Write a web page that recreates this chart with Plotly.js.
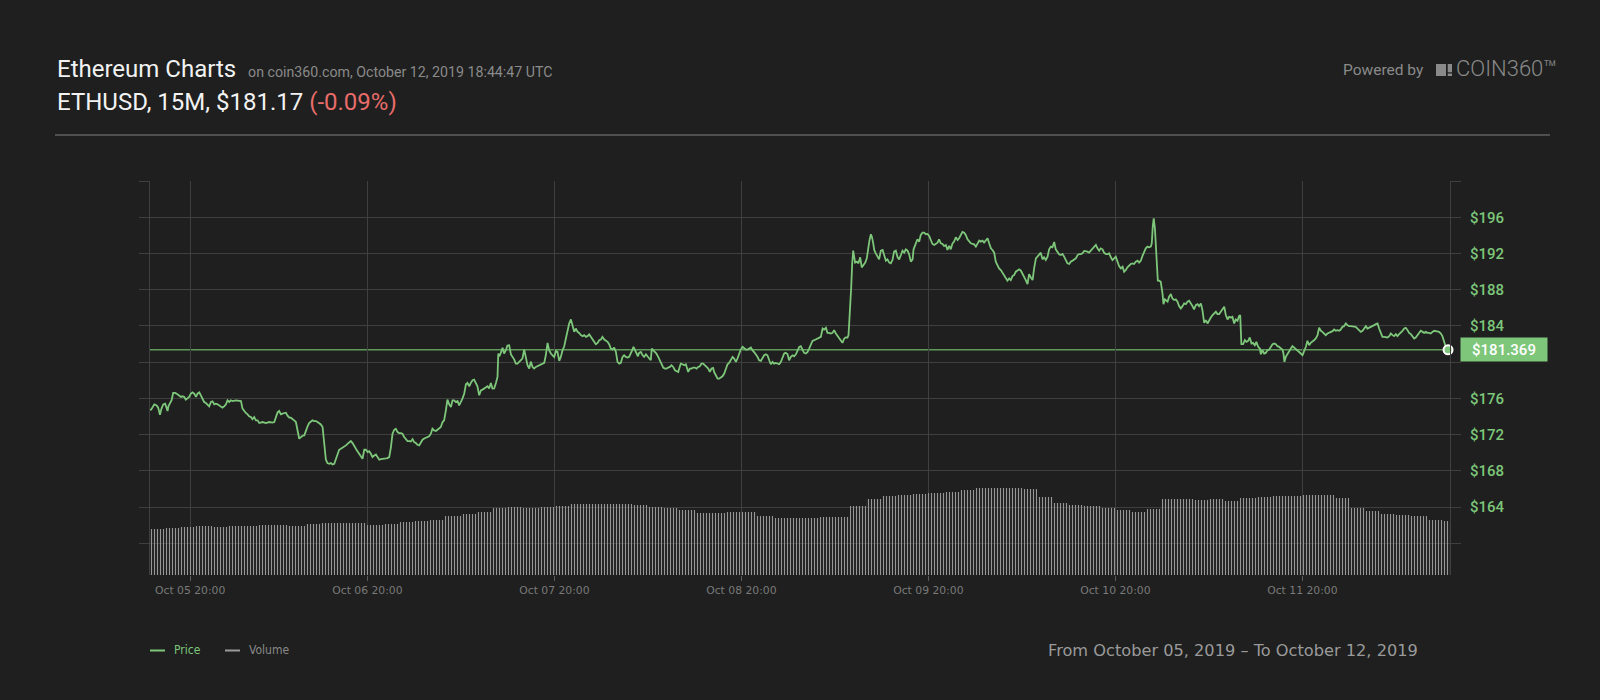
<!DOCTYPE html>
<html>
<head>
<meta charset="utf-8">
<script src="https://cdn.plot.ly/plotly-3.0.1.min.js"></script>
<style>
  html, body { margin: 0; padding: 0; background: #1e1f1e; }
  #chart { width: 1600px; height: 700px; }
</style>
</head>
<body>
<div id="chart"></div>
<script>
// ---- DATA ----
// x = 15-minute candle number from the start of the window
const xTickCandles = [21, 112, 208, 304, 400, 496, 592];
const xTickLabels = ["Oct 05 20:00", "Oct 06 20:00", "Oct 07 20:00", "Oct 08 20:00", "Oct 09 20:00", "Oct 10 20:00", "Oct 11 20:00"];
const yTickValues = [160, 164, 168, 172, 176, 180, 184, 188, 192, 196, 200];
const yTickLabels = ["", "$164", "$168", "$172", "$176", "", "$184", "$188", "$192", "$196", ""];
const lastPrice = 181.369;

// [candle, price USD]
const priceSeries = [
[0,174.76],[1.0,174.76],[2.6,175.35],[3.8,175.24],[4.6,174.99],[5.5,174.21],[6.3,174.88],[7.2,175.35],[8.2,175.43],[8.9,174.88],
[9.4,174.62],[9.9,175.17],[10.6,175.50],[11.5,175.80],[12.3,176.61],[13.3,176.61],[14.5,176.46],[15.4,176.35],[16.3,176.17],[17.1,176.24],
[18.0,176.17],[18.8,175.87],[19.7,176.09],[20.5,176.17],[21.4,176.53],[22.2,176.68],[23.1,176.53],[24.0,176.17],[24.8,176.53],[25.7,176.68],
[26.5,176.35],[27.4,175.87],[28.2,175.61],[29.1,175.50],[29.9,175.35],[30.8,175.13],[31.7,175.61],[32.5,175.69],[33.4,175.35],[34.2,175.43],
[35.1,175.35],[35.9,175.21],[36.8,175.06],[37.6,174.99],[38.5,175.13],[39.4,175.35],[40.2,175.80],[41.1,175.61],[41.9,175.80],[42.8,175.72],
[44.5,175.80],[46.2,175.80],[47.1,175.72],[47.9,174.88],[48.8,174.58],[49.6,174.40],[50.5,174.25],[51.3,174.03],[52.2,173.95],[53.0,173.70],
[53.9,173.95],[54.8,173.59],[55.6,173.59],[56.5,173.29],[58.2,173.40],[59.9,173.29],[61.6,173.40],[63.3,173.33],[64.2,173.40],[65.0,173.95],
[65.9,174.47],[66.7,174.62],[67.6,174.25],[68.4,174.32],[69.3,174.40],[70.2,174.43],[71.0,174.10],[71.9,173.88],[72.7,173.88],[73.6,173.77],
[74.4,173.59],[75.3,173.40],[76.1,172.48],[77.0,171.56],[77.9,171.74],[78.7,171.89],[79.6,171.93],[80.4,172.48],[81.3,172.92],[82.1,173.29],
[83.0,173.51],[83.8,173.59],[84.7,173.51],[85.6,173.51],[86.4,173.40],[87.3,173.29],[88.1,173.14],[89.0,172.85],[89.8,171.00],[90.7,169.24],
[91.5,168.87],[92.4,168.79],[93.3,168.87],[94.1,168.72],[95.0,168.79],[95.8,169.35],[96.7,169.90],[97.5,170.34],[98.4,170.45],[99.3,170.56],
[100.1,170.71],[101.0,170.82],[101.8,171.00],[102.7,171.19],[103.5,171.30],[104.4,171.08],[105.2,170.71],[106.1,170.45],[106.9,170.19],[107.8,169.90],
[108.7,169.60],[109.5,169.35],
[110.4,170.34],[111.2,170.34],[112.1,170.08],[112.9,170.19],[113.8,169.90],[114.6,169.53],[115.5,169.71],[116.4,169.82],[117.2,169.53],[118.1,169.24],
[118.9,169.31],[119.8,169.31],[120.6,169.35],[121.5,169.38],[122.3,169.42],[123.2,169.53],[124.1,170.64],[124.9,172.11],[125.8,172.55],[126.6,172.66],
[127.5,172.29],[128.3,172.18],[129.2,172.18],[130.0,172.11],[130.9,171.74],[131.8,171.45],[132.6,171.30],[133.5,171.30],[134.3,171.26],[135.2,171.52],
[136.0,171.19],[136.9,171.08],[137.7,170.89],[138.6,170.82],[139.5,171.19],[140.3,171.45],[141.2,171.59],[142.0,171.67],[142.9,171.67],[143.7,171.82],
[144.6,172.11],[145.4,172.66],[146.3,172.48],[147.2,172.41],[148.0,172.55],[148.9,172.66],[149.7,172.85],[150.6,173.40],[151.4,173.59],[152.3,174.69],
[153.1,175.87],[154.0,175.35],[154.9,175.06],[155.7,175.80],[156.6,175.80],[157.4,175.61],[158.3,175.72],[159.1,175.24],[160.0,175.61],[160.8,175.98],
[161.7,176.53],[162.6,177.57],[163.4,177.71],[164.3,177.35],[165.1,177.71],[166.0,178.01],[166.8,178.08],[167.7,177.71],[168.5,177.35],[169.4,176.35],
[170.3,176.90],[171.1,176.98],[172.0,177.12],[172.8,177.20],[173.7,177.35],[174.5,177.09],[175.4,177.71],[176.2,177.09],[177.1,177.12],[178.0,177.71],
[178.8,178.38],[179.2,180.96],[179.7,180.66],[180.5,181.03],[181.4,181.59],[182.2,180.96],[183.1,181.33],[183.9,181.84],[184.8,181.88],[185.7,180.85],
[186.5,180.59],[187.4,180.29],[188.2,179.85],[189.1,179.85],[189.9,180.04],[190.8,180.22],[191.6,180.41],[192.5,181.40],[193.4,180.59],[194.2,179.67],
[195.1,179.30],[195.9,180.07],[196.8,179.48],[197.6,179.30],[198.5,179.48],[199.3,179.56],[200.2,179.67],[201.1,179.74],[201.9,179.85],[202.8,179.93],
[203.6,180.77],[204.5,182.14],[205.3,181.33],[206.2,180.96],[207.1,180.77],[207.9,180.59],[208.8,181.25],[209.6,181.14],[210.5,180.15],[211.3,180.59],
[212.2,181.33],[213.0,181.70],[213.9,182.62],[214.8,183.54],[215.6,184.28],[216.5,184.72],[217.3,184.09],[218.2,183.35],[219.0,183.72],[219.9,183.35],
[220.7,183.24],[221.6,182.99],[222.5,182.88],[223.3,182.99],[224.2,182.80],[225.0,182.88],[225.9,183.06],[226.7,182.80],[227.6,182.51],[228.4,182.14],
[229.3,181.99],[230.2,182.14],[231.0,182.43],[231.9,182.51],[232.7,182.80],[233.6,182.51],[234.4,182.43],[235.3,182.25],[236.1,181.99],[237.0,181.51],
[237.9,181.40],[238.7,181.62],[239.6,181.14],[240.4,180.04],[241.3,179.85],[242.1,179.93],[243.0,180.59],[243.8,180.77],[244.7,180.59],[245.6,180.52],
[246.4,180.59],[247.3,180.96],[248.1,181.40],[248.6,181.70],[249.5,181.25],[250.2,181.03],[250.9,180.66],[251.5,181.03],[252.4,181.14],[253.3,180.77],
[254.1,180.59],[255.0,180.88],[255.8,180.59],[256.7,180.41],[257.5,180.22],[258.0,181.51],[258.7,181.33],[259.6,181.14],[260.4,180.96],[261.3,180.59],
[262.1,180.22],[263.0,179.78],[263.9,179.41],[264.7,179.30],[265.6,179.30],[266.4,179.41],[267.3,179.48],[268.1,179.67],[269.0,179.48],[269.9,179.12],
[270.7,179.04],[271.6,178.93],[272.1,179.30],[272.9,179.85],[273.8,179.78],[274.6,179.67],[275.5,179.78],[276.0,179.41],[276.7,178.93],[277.5,179.30],
[278.4,179.30],[279.3,179.41],[280.1,179.41],[281.0,179.30],[281.8,179.48],[282.7,179.56],[283.5,179.85],[284.4,179.85],[285.3,179.67],[286.1,179.56],
[287.0,179.30],[287.8,178.93],[288.7,179.30],[289.5,179.37],[290.0,178.93],[290.9,178.56],[291.8,178.19],[292.6,178.19],[293.5,178.30],[294.3,178.45],
[295.2,178.75],[296.0,179.30],[296.9,179.78],[297.7,179.93],[298.6,180.22],[299.5,180.59],[300.3,180.41],[301.2,180.04],[302.0,180.41],[302.9,180.96],
[303.7,181.40],[304.6,181.70],[305.4,181.51],[306.3,181.40],[307.2,181.40],[308.0,181.51],[308.9,181.62],[309.7,181.33],[310.6,181.14],[311.4,180.88],
[312.3,180.59],[313.1,180.22],[314.0,180.15],[314.8,180.41],[315.7,180.77],[316.6,180.88],[317.4,180.77],[318.3,180.22],[319.1,179.78],[320.0,180.04],
[320.8,179.85],[321.7,179.93],[322.6,179.85],[323.4,179.78],[324.3,180.04],[325.1,180.59],[326.0,180.96],[326.8,181.03],[327.7,180.88],[328.5,180.22],
[329.4,180.59],[330.3,180.77],
[331.1,180.66],[332.0,180.88],[332.8,181.33],[333.7,181.70],[334.5,181.77],[335.4,181.40],[336.2,181.03],[337.1,180.96],[338.0,181.14],[338.8,181.51],
[339.7,181.99],[340.5,182.36],[341.4,182.43],[342.2,182.51],[343.1,182.62],[343.9,182.62],[344.8,182.80],[345.7,183.72],[346.5,183.61],[347.4,183.80],
[348.2,183.24],[349.1,183.24],[349.9,183.17],[350.8,183.24],[351.6,183.54],[352.5,183.17],[353.4,182.88],[354.2,182.62],[355.1,182.43],[355.9,182.14],
[356.8,182.62],[357.6,182.73],[358.5,182.73],[359.0,182.99],[359.3,184.09],[359.9,186.12],[360.4,188.33],[360.9,190.91],[361.4,192.31],[361.9,191.65],
[362.4,190.99],[363.3,191.10],[364.1,190.91],[365.0,191.58],[365.8,190.47],[366.7,190.73],[367.6,190.99],[368.4,191.47],[369.1,192.68],[369.8,193.49],
[370.5,194.12],[371.0,193.86],[371.7,193.12],[372.2,192.39],[373.0,192.02],[373.9,191.72],[374.7,191.35],[375.6,192.31],[376.5,192.39],[377.3,191.83],
[378.2,191.21],[379.0,191.35],[379.9,190.99],[380.7,190.91],[381.6,191.28],[382.4,192.20],[383.3,192.31],[384.2,191.58],[385.0,191.35],[385.9,191.83],
[386.7,192.31],[387.6,192.09],[388.4,192.46],[389.3,192.31],[390.1,191.94],[391.0,191.10],[391.9,191.35],[392.4,192.46],[393.1,192.83],[393.7,193.12],
[394.4,193.57],[395.3,193.31],[396.1,194.05],[397.0,194.30],[397.8,194.30],[398.7,194.12],[399.6,194.16],[400.4,193.94],[401.3,193.42],[402.1,193.05],
[403.0,192.94],[403.8,193.05],[404.7,193.20],[405.5,193.57],[406.4,193.12],[407.3,193.05],[408.1,192.83],[409.0,192.94],[409.8,192.39],[410.7,192.83],
[411.5,192.46],[412.4,193.12],[413.2,193.31],[414.1,193.79],[415.0,193.49],[415.8,193.68],[416.7,194.05],[417.5,194.38],[418.4,194.30],[419.2,194.05],
[420.1,193.57],[420.9,193.31],[421.8,193.12],[422.7,193.05],[423.5,193.01],[424.4,192.76],[425.2,193.05],[426.1,193.42],[426.9,193.31],[427.8,193.42],
[428.6,193.20],[429.5,193.49],[430.4,193.68],[431.2,193.12],[432.1,192.57],[432.9,192.39],[433.8,192.09],[434.6,191.10],[435.5,190.62],[436.3,190.36],
[437.2,190.18],[438.1,189.88],[438.9,189.62],[439.8,189.33],[440.6,189.00],
[441.5,189.25],[442.3,189.07],[443.2,189.51],[444.0,189.62],[444.9,189.99],[445.8,190.18],[446.6,190.25],[447.5,190.10],[448.3,189.81],[449.2,189.44],
[450.0,189.07],[450.9,188.63],[451.7,189.73],[452.6,189.36],[453.5,189.07],[454.3,190.36],[455.2,191.47],[456.0,191.65],[456.9,191.83],[457.7,192.09],
[458.6,191.35],[459.4,191.58],[460.3,191.28],[461.2,191.65],[462.0,192.46],[462.9,192.76],[463.7,192.68],[464.6,193.27],[465.4,192.46],[466.3,192.20],
[467.1,191.91],[468.0,191.83],[468.9,191.94],[469.7,191.65],[470.6,191.28],[471.4,190.91],[472.3,190.84],[473.1,191.10],[474.0,191.21],[474.8,191.35],
[475.7,191.47],[476.6,191.83],[477.4,191.94],[478.3,191.94],[479.1,192.02],[480.0,192.28],[480.8,192.28],[481.7,192.20],[482.5,192.09],[483.4,192.31],
[484.3,192.46],[485.1,192.68],[486.0,192.94],[486.8,192.57],[487.7,192.31],[488.5,192.57],[489.4,192.46],[490.2,192.09],[491.1,191.94],[492.0,191.94],
[492.8,192.02],[493.7,191.58],[494.5,191.28],[495.4,191.47],[496.2,191.65],[497.1,191.10],[497.9,190.62],[498.8,190.36],[499.7,190.54],[500.5,189.99],
[501.4,190.18],[502.2,190.47],[503.1,190.73],[503.9,190.84],[504.8,190.91],[505.6,190.84],[506.5,191.10],[507.4,191.21],[508.2,190.99],[509.1,191.21],
[509.9,191.72],[510.8,192.09],[511.6,192.57],[512.5,192.76],[513.3,192.68],[514.2,192.76],[514.7,193.12],[515.2,194.97],[515.7,195.89],[516.3,194.78],
[516.8,192.39],[517.3,189.81],[517.8,189.00],[518.5,189.00],[519.3,188.88],[520.2,187.59],[520.7,186.41],[521.4,186.93],[521.9,186.86],[522.8,186.67],
[523.6,187.23],[524.5,187.52],[525.3,187.04],[526.2,186.86],[527.0,186.93],[527.9,186.67],[528.7,186.19],[529.6,185.94],[530.5,186.19],[531.3,186.49],
[532.2,186.41],[533.0,186.67],[533.9,186.78],[534.7,186.56],[535.6,186.19],[536.4,185.82],[537.3,186.30],[538.2,186.41],[539.0,186.19],[539.9,186.49],
[540.7,185.75],[541.6,184.35],[542.4,184.65],[543.3,184.28],[544.2,184.72],[545.0,184.94],[545.9,185.20],[546.7,185.38],[547.6,185.57],[548.4,185.31],
[549.3,185.31],[550.1,185.57],[551.0,185.82],
[551.9,186.12],[552.7,185.20],[553.6,184.72],[554.4,185.01],[555.3,184.94],[556.1,185.01],[557.0,184.28],[557.8,184.72],[558.7,184.57],[559.5,185.09],
[560.1,185.20],[560.4,183.54],[560.7,181.99],[561.6,181.99],[562.5,182.43],[563.3,182.25],[564.2,182.36],[565.0,182.73],[565.9,182.06],[566.7,182.14],
[567.6,181.88],[568.4,182.25],[569.3,181.70],[570.2,181.51],[570.7,180.88],[571.5,181.33],[572.4,180.96],[573.2,181.03],[574.1,181.33],[575.0,181.40],
[575.8,181.70],[576.7,181.99],[577.5,182.06],[578.4,181.99],[579.2,181.77],[580.1,181.70],[581.0,181.51],[581.8,181.40],[582.3,180.96],[582.8,180.04],
[583.5,180.59],[584.4,180.96],[585.2,181.25],[586.1,181.51],[586.9,181.77],[587.8,181.62],[588.6,181.40],[589.5,181.25],[590.4,181.14],[591.2,180.96],
[592.1,180.77],[592.9,181.14],[593.8,181.70],[594.6,182.36],[595.5,181.88],[596.3,182.14],[597.2,182.25],[598.0,182.43],[598.9,182.62],[599.8,182.99],
[600.6,183.80],[601.5,183.47],[602.3,183.35],[603.2,183.10],[604.0,182.99],[604.9,183.17],[605.7,183.24],[606.6,183.32],[607.5,183.43],[608.3,183.61],
[609.2,183.47],[610.0,183.54],[610.9,183.47],[611.7,183.61],[612.6,183.91],[613.4,183.98],[614.3,184.28],[615.2,184.09],[616.0,183.98],[616.9,183.98],
[617.7,183.98],[618.6,183.98],[619.4,183.91],[620.3,183.72],[621.1,183.54],[622.0,183.35],[622.9,183.47],[623.7,183.72],[624.6,183.98],[625.4,183.72],
[626.3,183.80],[627.1,183.91],[628.0,183.98],[628.9,184.09],[629.7,184.20],[630.6,184.28],[631.4,183.72],[632.3,183.10],[633.1,182.80],[634.0,182.80],
[634.8,182.80],[635.7,182.73],[636.6,182.88],[637.4,183.17],[638.3,182.99],[639.1,182.88],[640.0,183.10],[640.8,182.88],[641.7,183.10],[642.5,183.24],
[643.4,183.47],[644.3,183.72],[645.1,183.80],[646.0,183.54],[646.8,183.24],[647.7,183.10],[648.5,182.80],[649.4,182.62],[650.2,182.73],[651.1,182.99],
[652.0,183.35],[652.8,183.47],[653.7,183.35],[654.5,183.24],[655.4,183.35],[656.2,183.24],[657.1,183.24],[657.9,183.17],[658.8,183.35],[659.7,183.47],
[660.5,183.43],[661.4,183.43],[662.2,183.35],[663.1,183.17],[663.9,182.88],[664.8,182.25],[665.6,181.70],[666.8,181.369]
];

// volume in 2-hour buckets (8 candles each), arbitrary units
const volumeBucketStart = 4;
const volumeBucketSize = 8;
const volume = [
46.0,46.7,47.7,49.0,48.5,48.8,49.3,50.0,50.0,49.5,
51.2,52.0,52.0,51.7,50.5,51.5,53.5,54.3,55.3,59.2,
61.5,63.0,66.7,68.0,66.7,68.0,69.5,70.8,70.7,70.8,
71.0,69.8,68.3,67.0,65.5,62.3,62.5,63.3,62.7,59.0,
57.5,56.7,56.7,57.7,58.0,69.5,76.5,79.3,80.0,81.0,
82.5,83.5,85.5,86.7,86.7,86.7,86.2,78.5,72.5,70.0,
69.0,67.3,65.5,63.5,66.5,75.7,76.5,75.2,75.7,74.0,
76.8,77.8,78.7,79.5,80.0,80.0,77.5,67.5,64.0,61.3,
60.5,59.3,55.0,54.0
];

// ---- STYLE ----
const BG = '#1e1f1e';
const GRID = '#3e3f3e';
const GREEN = '#7dc67a';
const REFGREEN = '#5e9b5b';
const SANS = '"DejaVu Sans", sans-serif';
const COND = '"DejaVu Sans Condensed", "DejaVu Sans", sans-serif';

const candle = priceSeries.map(d => d[0]);
const price = priceSeries.map(d => d[1]);
const volumeCandle = volume.map((v, i) => volumeBucketStart + volumeBucketSize * i);

const traces = [
  {
    type: 'bar', x: volumeCandle, y: volume, yaxis: 'y2', width: volumeBucketSize,
    marker: {
      color: 'rgba(0,0,0,0)',
      line: {width: 0},
      pattern: {shape: '|', fgcolor: '#979797', bgcolor: 'rgba(90,90,90,0.12)', size: 3, solidity: 0.34, fillmode: 'replace'}
    },
    hoverinfo: 'skip', showlegend: false
  },
  {
    type: 'scatter', mode: 'lines', x: candle, y: price,
    line: {color: GREEN, width: 1.8}, showlegend: false, hoverinfo: 'skip'
  },
  {
    type: 'scatter', mode: 'markers', x: [candle[candle.length - 1]], y: [lastPrice],
    marker: {color: GREEN, size: 9, line: {color: '#ffffff', width: 2}},
    showlegend: false, hoverinfo: 'skip', cliponaxis: false
  }
];

// plot box in pixels: left 150, right 1450, top 181, bottom 575
const px = v => (v - 150) / 1300;
const py = v => (575 - v) / 394;

const layout = {
  width: 1600, height: 700,
  paper_bgcolor: BG, plot_bgcolor: BG,
  margin: {l: 150, r: 150, t: 181, b: 125, pad: 0},
  bargap: 0,
  xaxis: {
    range: [0.4, 667.8],
    tickmode: 'array', tickvals: xTickCandles, ticktext: xTickLabels,
    showgrid: true, gridcolor: GRID, gridwidth: 1,
    zeroline: false, showline: false,
    ticks: 'outside', ticklen: 5, tickcolor: '#5a5a5a',
    tickfont: {family: SANS, size: 10.8, color: '#7a7a7a'}
  },
  yaxis: {
    side: 'right',
    range: [156.52, 200],
    tickmode: 'array', tickvals: yTickValues, ticktext: yTickLabels,
    showgrid: true, gridcolor: GRID, gridwidth: 1,
    zeroline: false,
    showline: true, linecolor: GRID, linewidth: 1, mirror: 'allticks',
    ticks: 'outside', ticklen: 10, tickcolor: GRID,
    ticklabelstandoff: 6,
    tickfont: {family: 'Roboto', size: 15, color: GREEN, weight: 500}
  },
  yaxis2: {
    overlaying: 'y', side: 'left', range: [0, 394], visible: false, fixedrange: true
  },
  shapes: [
    {type: 'line', xref: 'paper', yref: 'y', x0: 0, x1: 1, y0: lastPrice, y1: lastPrice,
     line: {color: REFGREEN, width: 1.5}, layer: 'below'},
    {type: 'line', xref: 'paper', yref: 'paper', x0: px(55), x1: px(1550), y0: py(135), y1: py(135),
     line: {color: '#4e4f4e', width: 2}},
    {type: 'rect', xref: 'paper', yref: 'paper', x0: px(1436), x1: px(1446), y0: py(64), y1: py(76),
     fillcolor: '#8a8a8a', line: {width: 0}},
    {type: 'rect', xref: 'paper', yref: 'paper', x0: px(1447.7), x1: px(1452), y0: py(64), y1: py(72.3),
     fillcolor: '#8a8a8a', line: {width: 0}},
    {type: 'rect', xref: 'paper', yref: 'paper', x0: px(1447.7), x1: px(1452), y0: py(73.5), y1: py(76),
     fillcolor: '#8a8a8a', line: {width: 0}},
    {type: 'line', xref: 'paper', yref: 'paper', x0: px(150), x1: px(165), y0: py(650.5), y1: py(650.5),
     line: {color: GREEN, width: 2}},
    {type: 'line', xref: 'paper', yref: 'paper', x0: px(225), x1: px(240), y0: py(650.5), y1: py(650.5),
     line: {color: '#9a9a9a', width: 2}}
  ],
  annotations: [
    {xref: 'paper', yref: 'paper', x: px(55), y: py(68.5), xanchor: 'left', yanchor: 'middle', showarrow: false,
     text: 'Ethereum Charts\u00a0 <span style="font-size:14.2px;color:#8a8a8a">on coin360.com, October 12, 2019 18:44:47 UTC</span>',
     font: {family: 'Roboto', size: 24, color: '#f2f2f2'}},
    {xref: 'paper', yref: 'paper', x: px(55), y: py(101.5), xanchor: 'left', yanchor: 'middle', showarrow: false,
     text: 'ETHUSD, 15M, $181.17 <span style="color:#e86c6a">(-0.09%)</span>',
     font: {family: 'Roboto', size: 24, color: '#f2f2f2'}},
    {xref: 'paper', yref: 'paper', x: px(1341), y: py(70), xanchor: 'left', yanchor: 'middle', showarrow: false,
     text: 'Powered by', font: {family: 'Roboto', size: 15.5, color: '#8a8a8a'}},
    {xref: 'paper', yref: 'paper', x: px(1454), y: py(68.5), xanchor: 'left', yanchor: 'middle', showarrow: false,
     text: 'COIN360™', font: {family: 'Roboto', size: 22, color: '#8a8a8a', weight: 300}},
    {xref: 'paper', yref: 'y', x: px(1460), y: lastPrice, xanchor: 'left', yanchor: 'middle', showarrow: false,
     text: '$' + lastPrice.toFixed(3), bgcolor: GREEN, borderpad: 0, width: 86, height: 23, align: 'center',
     font: {family: 'Roboto', size: 15, color: '#ffffff', weight: 500}},
    {xref: 'paper', yref: 'paper', x: px(172), y: py(650), xanchor: 'left', yanchor: 'middle', showarrow: false,
     text: 'Price', font: {family: COND, size: 12, color: GREEN}},
    {xref: 'paper', yref: 'paper', x: px(247), y: py(650), xanchor: 'left', yanchor: 'middle', showarrow: false,
     text: 'Volume', font: {family: COND, size: 12, color: '#8a8a8a'}},
    {xref: 'paper', yref: 'paper', x: px(1420), y: py(650), xanchor: 'right', yanchor: 'middle', showarrow: false,
     text: 'From October 05, 2019 – To October 12, 2019', font: {family: SANS, size: 16.2, color: '#9a9a9a'}}
  ]
};

Plotly.newPlot('chart', traces, layout, {displayModeBar: false, staticPlot: true});
</script>
</body>
</html>
